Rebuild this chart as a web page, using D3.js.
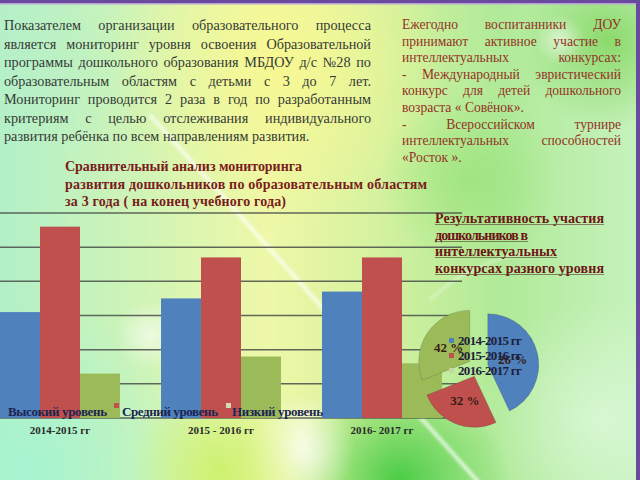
<!DOCTYPE html>
<html><head><meta charset="utf-8">
<script src="https://cdn.jsdelivr.net/npm/d3@7"></script>
<style>html,body{margin:0;padding:0;overflow:hidden;background:#fff}</style>
</head><body><svg id="c" width="640" height="480"></svg>
<script>
// ---------- data ----------
const categories = ["2014-2015 гг", "2015 - 2016 гг", "2016- 2017 гг"];
const seriesNames = ["Высокий уровень", "Средний уровень", "Низкий уровень"];
const highLevel = [31, 35, 37];
const midLevel = [56, 47, 47];
const lowLevel = [13, 18, 16];
const yTicks = [0, 10, 20, 30, 40, 50, 60];
const pieYears = ["2014-2015 гг", "2015-2016 гг", "2016-2017 гг"];
const pieShares = [43, 26, 31];
const pieLabels = ["26 %", "32 %", "42 %"];
const leftText = [
  "Показателем организации образовательного процесса",
  "является мониторинг уровня освоения Образовательной",
  "программы дошкольного образования МБДОУ д/с №28 по",
  "образовательным областям с детьми с 3 до 7 лет.",
  "Мониторинг проводится 2 раза в год по разработанным",
  "критериям с целью отслеживания индивидуального",
  "развития ребёнка по всем направлениям развития."
];
const rightText = [
  "Ежегодно воспитанники ДОУ",
  "принимают активное участие в",
  "интеллектуальных конкурсах:",
  "- Международный эвристический",
  "конкурс для детей дошкольного",
  "возраста « Совёнок».",
  "- Всероссийском турнире",
  "интеллектуальных способностей",
  "«Росток »."
];
const barTitle = ["Сравнительный анализ мониторинга",
  "развития дошкольников  по образовательным областям",
  "за 3 года  ( на конец учебного года)"];
const pieTitle = ["Результативность участия", "дошкольников в",
  "интеллектуальных", "конкурсах разного уровня"];

const colors = ["#4f81bd", "#c0504d", "#9bbb59"];
const SERIF = "'Liberation Serif','DejaVu Serif',serif";

const svg = d3.select("#c");
const defs = svg.append("defs");

// ---------- background ----------
const lg = defs.append("linearGradient").attr("id", "bgH").attr("x1", 0).attr("x2", 1).attr("y1", 0).attr("y2", 0);
[[0, "#b2f0c8"], [0.22, "#d0f4b6"], [0.42, "#eef8a8"], [0.58, "#d6f2a0"], [0.78, "#b0ea98"], [1, "#c6f2bc"]]
  .forEach(s => lg.append("stop").attr("offset", s[0]).attr("stop-color", s[1]));
svg.append("rect").attr("width", 640).attr("height", 480).attr("fill", "url(#bgH)");

function glow(id, cx, cy, r, color, op) {
  const rg = defs.append("radialGradient").attr("id", id);
  rg.append("stop").attr("offset", 0).attr("stop-color", color).attr("stop-opacity", op);
  rg.append("stop").attr("offset", 1).attr("stop-color", color).attr("stop-opacity", 0);
  svg.append("circle").attr("cx", cx).attr("cy", cy).attr("r", r).attr("fill", `url(#${id})`);
}
glow("g1", 280, 60, 170, "#f8f890", 0.9);
glow("g2", 400, 480, 110, "#3cc83c", 0.9);
glow("g3", 610, 40, 90, "#7ed45a", 0.8);
glow("g4", 30, 470, 170, "#a6f4d2", 0.9);
glow("g5", 300, 450, 55, "#ffffff", 0.8);
glow("g6", 220, 470, 90, "#c8f060", 0.8);
glow("g7", 560, 40, 25, "#ffffff", 0.6);
glow("g8", 150, 335, 35, "#ffffff", 0.6);
glow("g9", 470, 180, 90, "#8ee070", 0.6);
glow("g10", 600, 420, 120, "#e0fae0", 0.7);
glow("g11", 20, 60, 110, "#b8f0c8", 0.7);
defs.append("filter").attr("id", "blur").append("feGaussianBlur").attr("stdDeviation", 1.5);
svg.append("line").attr("x1", 150).attr("y1", 115).attr("x2", 490).attr("y2", 495)
  .attr("stroke", "#ffffff").attr("stroke-width", 4).attr("opacity", 0.7).attr("filter", "url(#blur)");
svg.append("path").attr("d", "M430,300 Q470,260 540,250").attr("fill", "none")
  .attr("stroke", "#ffffff").attr("stroke-width", 2).attr("opacity", 0.5).attr("filter", "url(#blur)");

// frame
svg.append("rect").attr("x", 0).attr("y", 0).attr("width", 640).attr("height", 3).attr("fill", "#6a4a9e");
svg.append("rect").attr("x", 0).attr("y", 3).attr("width", 640).attr("height", 1.5).attr("fill", "#b9a2d6");
svg.append("rect").attr("x", 636).attr("y", 0).attr("width", 4).attr("height", 480).attr("fill", "#6a4a9e");

// ---------- justified paragraphs ----------
function paragraph(lines, x0, x1, y0, lh, color, refWord, refWidth, justifyFlags) {
  const g = svg.append("g").attr("font-family", SERIF).attr("fill", color);
  const probe = g.append("text").attr("font-size", 20).text(refWord);
  const fs = 20 * refWidth / probe.node().getComputedTextLength();
  probe.remove();
  g.attr("font-size", fs);
  lines.forEach((ln, i) => {
    const y = y0 + i * lh;
    const words = ln.split(/\s+/).filter(Boolean);
    const els = words.map(w => g.append("text").attr("y", y).text(w));
    const widths = els.map(e => e.node().getComputedTextLength());
    const total = d3.sum(widths);
    const gap = (justifyFlags[i] && words.length > 1) ? (x1 - x0 - total) / (words.length - 1) : fs * 0.25;
    let x = x0;
    els.forEach((e, k) => { e.attr("x", x); x += widths[k] + gap; });
  });
}
paragraph(leftText, 4, 371, 30, 18.5, "#363a36", "Показателем", 77, [1, 1, 1, 1, 1, 1, 0]);
paragraph(rightText, 402, 621, 29, 16.6, "#943226", "Ежегодно", 56, [1, 1, 1, 1, 1, 0, 1, 1, 0]);

// ---------- bar chart ----------
const x0 = d3.scaleBand().domain(categories).range([-20.5, 462.5]).paddingInner(0.255).paddingOuter(0.1275);
const xs = d3.scaleBand().domain(seriesNames).range([0, x0.bandwidth()]);
const y = d3.scaleLinear().domain([0, 60]).range([418, 213]);

const grid = svg.append("g");
grid.selectAll("line").data(yTicks).join("line")
  .attr("x1", 0).attr("x2", 462).attr("y1", d => y(d)).attr("y2", d => y(d))
  .attr("stroke", "#4a4f4a").attr("stroke-width", 1.5).attr("opacity", 0.85);

const seriesVals = [highLevel, midLevel, lowLevel];
const barsG = svg.append("g");
categories.forEach((c, ci) => {
  seriesNames.forEach((s, si) => {
    const v = seriesVals[si][ci];
    barsG.append("rect")
      .attr("x", x0(c) + xs(s)).attr("width", xs.bandwidth())
      .attr("y", y(v)).attr("height", y(0) - y(v))
      .attr("fill", colors[si]);
  });
});

// category labels
svg.append("g").attr("font-family", SERIF).attr("font-weight", "bold").attr("font-size", 11).attr("fill", "#2a2a2a")
  .selectAll("text").data(categories).join("text")
  .attr("x", d => x0(d) + x0.bandwidth() / 2).attr("y", 434).attr("text-anchor", "middle").text(d => d);

// legend (overlaying bars)
const legX = [1, 114, 226];
const legTx = [8, 122, 232];
const legW = [99, 96, 91];
const legG = svg.append("g").attr("font-family", SERIF).attr("font-weight", "bold").attr("font-size", 13);
seriesNames.forEach((s, i) => {
  legG.append("rect").attr("x", legX[i]).attr("y", 403).attr("width", 5).attr("height", 5)
    .attr("fill", i === 2 ? "#d2dcae" : colors[i]);
  legG.append("text").attr("x", legTx[i]).attr("y", 416).attr("fill", "#1c2552")
    .attr("textLength", legW[i]).text(s);
});

// bar chart title
const btW = [237, 362, 221];
const btY = [171, 189, 206];
svg.append("g").attr("font-family", SERIF).attr("font-weight", "bold").attr("font-size", 14).attr("fill", "#7a1c1c")
  .selectAll("text").data(barTitle).join("text")
  .attr("x", 65).attr("y", (d, i) => btY[i]).attr("textLength", (d, i) => btW[i]).text(d => d);

// ---------- pie chart ----------
const pcx = 478, pcy = 367, pr = 51, explode = 10;
const pie = d3.pie().sort(null).value(d => d)(pieShares);
const arc = d3.arc().innerRadius(0).outerRadius(pr);
const pieG = svg.append("g").attr("transform", `translate(${pcx},${pcy})`);
pie.forEach((p, i) => {
  const mid = (p.startAngle + p.endAngle) / 2;
  const dx = Math.sin(mid) * explode, dy = -Math.cos(mid) * explode;
  pieG.append("path").attr("d", arc(p)).attr("transform", `translate(${dx},${dy})`)
    .attr("fill", colors[i]).attr("stroke", "rgba(60,60,60,0.35)").attr("stroke-width", 0.6);
});
pie.forEach((p, i) => {
  const mid = (p.startAngle + p.endAngle) / 2;
  const dx = Math.sin(mid) * explode, dy = -Math.cos(mid) * explode;
  const c = arc.centroid(p);
  pieG.append("text").attr("x", c[0] + dx).attr("y", c[1] + dy + 5)
    .attr("text-anchor", "middle").attr("font-family", SERIF).attr("font-weight", "bold")
    .attr("font-size", 13).attr("fill", "#3a1c14").text(pieLabels[i]);
});
// pie legend
const plG = svg.append("g").attr("font-family", SERIF).attr("font-weight", "bold").attr("font-size", 13);
pieYears.forEach((yr, i) => {
  plG.append("rect").attr("x", 449).attr("y", 338 + i * 15).attr("width", 5).attr("height", 5)
    .attr("fill", i === 2 ? "#c2d89e" : colors[i]);
  plG.append("text").attr("x", 458).attr("y", 345 + i * 15).attr("fill", "#1c1e3a")
    .attr("textLength", 64).text(yr);
});

// pie title
const ptW = [169, 93, 122, 169];
const ptY = [223, 240, 256, 273];
const ptG = svg.append("g").attr("font-family", SERIF).attr("font-weight", "bold").attr("font-size", 14).attr("fill", "#6e1616");
pieTitle.forEach((t, i) => {
  ptG.append("text").attr("x", 435).attr("y", ptY[i]).attr("textLength", ptW[i]).text(t);
  ptG.append("line").attr("x1", 435).attr("x2", 435 + ptW[i]).attr("y1", ptY[i] + 1.5).attr("y2", ptY[i] + 1.5)
    .attr("stroke", "#5a3a30").attr("stroke-width", 1).attr("opacity", 0.6);
});
</script></body></html>
